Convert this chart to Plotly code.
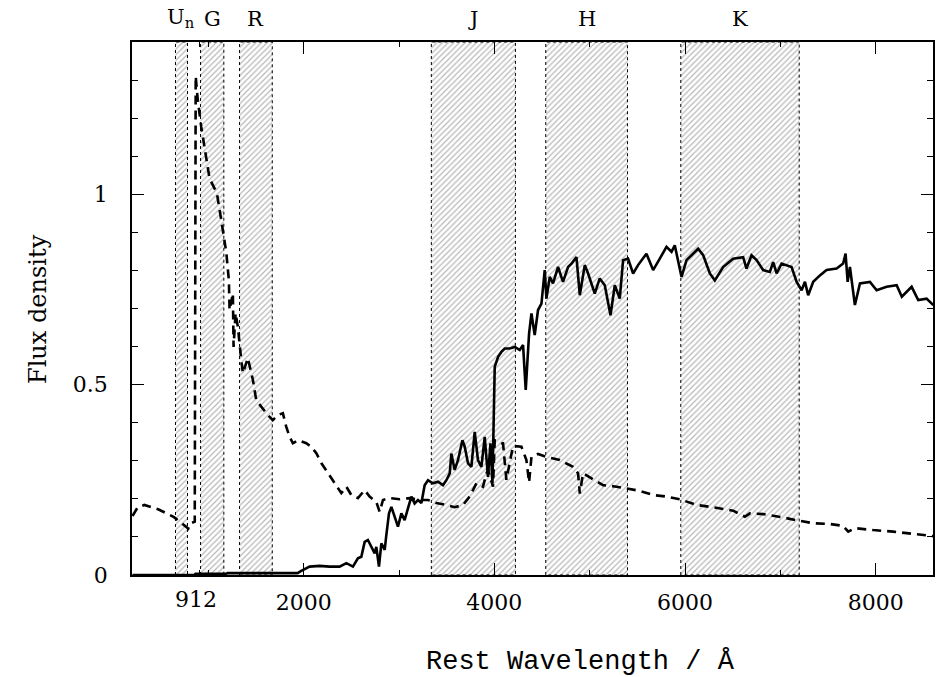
import plotly.graph_objects as go

# ---------------- data ----------------
band_names = ["U<sub>n</sub>", "G", "R", "J", "H", "K"]
band_lo = [656, 919, 1328, 3339, 4539, 5955]
band_hi = [782, 1163, 1671, 4221, 5396, 7197]

# young (starburst) spectrum - dashed
wave_young = [205, 260, 330, 480, 640, 770, 790, 810, 850, 858, 868, 890, 926, 979,
              1013, 1048, 1090, 1136, 1188, 1216, 1223, 1258, 1265, 1286, 1310, 1346,
              1363, 1415, 1468, 1503, 1556, 1625, 1677, 1730, 1782, 1818, 1853, 1887,
              1940, 2028, 2080, 2133, 2185, 2255, 2325, 2395, 2448, 2500, 2569, 2640,
              2692, 2762, 2797, 2832, 2902, 3007, 3112, 3217, 3304, 3392, 3497, 3584,
              3671, 3741, 3812, 3881, 3917, 3933, 3986, 4004, 4074, 4091, 4126, 4196,
              4284, 4336, 4364, 4389, 4458, 4546, 4686, 4825, 4878, 4896, 4930, 5018,
              5140, 5281, 5386, 5525, 5665, 5805, 5945, 6120, 6294, 6504, 6627, 6680,
              6819, 6907, 7029, 7186, 7344, 7519, 7658, 7711, 7781, 7973, 8183, 8393,
              8603]
flux_young = [0.155, 0.178, 0.184, 0.172, 0.152, 0.128, 0.122, 0.135, 0.138, 0.14,
              1.31, 1.247, 1.177, 1.089, 1.042, 1.024, 1.003, 0.932, 0.849, 0.774,
              0.696, 0.74, 0.599, 0.688, 0.652, 0.564, 0.53, 0.57, 0.512, 0.459, 0.442,
              0.42, 0.407, 0.42, 0.425, 0.389, 0.363, 0.346, 0.354, 0.346, 0.337, 0.32,
              0.294, 0.268, 0.241, 0.215, 0.232, 0.21, 0.202, 0.223, 0.206, 0.192,
              0.166, 0.197, 0.202, 0.199, 0.202, 0.197, 0.197, 0.189, 0.184, 0.178,
              0.184, 0.206, 0.241, 0.232, 0.267, 0.276, 0.232, 0.354, 0.346, 0.346,
              0.25, 0.339, 0.337, 0.302, 0.243, 0.31, 0.318, 0.31, 0.302, 0.284, 0.267,
              0.214, 0.267, 0.254, 0.236, 0.232, 0.228, 0.221, 0.21, 0.206, 0.199,
              0.184, 0.178, 0.169, 0.153, 0.162, 0.16, 0.157, 0.151, 0.143, 0.136,
              0.134, 0.129, 0.114, 0.123, 0.118, 0.114, 0.108, 0.102]

# old (evolved) spectrum - solid
wave_old = [205, 856, 866, 1188, 1202, 1937, 1975, 2062, 2167, 2272, 2377, 2448, 2517,
            2569, 2605, 2640, 2674, 2710, 2745, 2762, 2790, 2815, 2850, 2867, 2895,
            2920, 2954, 2989, 3025, 3059, 3094, 3130, 3164, 3199, 3235, 3269, 3304,
            3356, 3409, 3461, 3497, 3532, 3549, 3584, 3619, 3665, 3689, 3724, 3759,
            3794, 3828, 3864, 3899, 3933, 3959, 3980, 4004, 4039, 4074, 4109, 4161,
            4214, 4266, 4301, 4329, 4364, 4389, 4423, 4458, 4494, 4528, 4546, 4581,
            4615, 4668, 4720, 4773, 4809, 4861, 4896, 4948, 4983, 5053, 5105, 5158,
            5218, 5263, 5315, 5350, 5402, 5455, 5507, 5595, 5665, 5735, 5805, 5858,
            5892, 5963, 6015, 6137, 6190, 6260, 6312, 6399, 6504, 6609, 6644, 6697,
            6750, 6819, 6889, 6924, 6960, 7012, 7117, 7170, 7222, 7257, 7291, 7344,
            7414, 7484, 7589, 7658, 7683, 7705, 7729, 7781, 7834, 7939, 8009, 8114,
            8219, 8273, 8376, 8445, 8533, 8603]
flux_old = [0.0, 0.0, 0.003, 0.003, 0.005, 0.005, 0.011, 0.022, 0.024, 0.022, 0.022,
            0.031, 0.022, 0.044, 0.048, 0.087, 0.092, 0.074, 0.057, 0.074, 0.022,
            0.083, 0.066, 0.105, 0.162, 0.179, 0.153, 0.127, 0.162, 0.144, 0.175,
            0.206, 0.188, 0.197, 0.189, 0.236, 0.249, 0.241, 0.245, 0.236, 0.249,
            0.267, 0.319, 0.276, 0.302, 0.354, 0.337, 0.293, 0.284, 0.376, 0.302,
            0.284, 0.363, 0.258, 0.346, 0.241, 0.547, 0.573, 0.586, 0.595, 0.595,
            0.599, 0.591, 0.604, 0.486, 0.634, 0.687, 0.63, 0.696, 0.713, 0.801,
            0.726, 0.783, 0.766, 0.809, 0.77, 0.809, 0.818, 0.835, 0.735, 0.814,
            0.792, 0.739, 0.779, 0.761, 0.682, 0.761, 0.726, 0.827, 0.831, 0.792,
            0.814, 0.844, 0.801, 0.831, 0.862, 0.849, 0.866, 0.783, 0.827, 0.857,
            0.84, 0.792, 0.774, 0.809, 0.831, 0.835, 0.805, 0.84, 0.827, 0.801,
            0.796, 0.822, 0.792, 0.818, 0.809, 0.77, 0.748, 0.77, 0.735, 0.77, 0.787,
            0.801, 0.805, 0.818, 0.844, 0.77, 0.809, 0.709, 0.766, 0.77, 0.748,
            0.757, 0.761, 0.731, 0.757, 0.722, 0.726, 0.709]

x_tickvals = [2000, 4000, 6000, 8000]
x_ticktext = ["2000", "4000", "6000", "8000"]
x_minorvals = [912, 1000, 3000, 5000, 7000]
y_tickvals = [0, 0.5, 1]
y_ticktext = ["0", "0.5", "1"]
X_RANGE = [200, 8600]
Y_RANGE = [0, 1.4]

SERIF = "DejaVu Serif"
MONO = "Liberation Mono"

fig = go.Figure()

# hatched filter bands
for lo, hi in zip(band_lo, band_hi):
    fig.add_trace(go.Scatter(
        x=[lo, lo, hi, hi, lo], y=[Y_RANGE[0], Y_RANGE[1], Y_RANGE[1], Y_RANGE[0], Y_RANGE[0]],
        mode="lines", fill="toself", fillcolor="white",
        fillpattern=dict(shape="/", fgcolor="#707070", bgcolor="white", size=4, solidity=0.3),
        line=dict(color="black", width=1, dash="dot"),
        hoverinfo="skip", showlegend=False))

fig.add_trace(go.Scatter(x=wave_young, y=flux_young, mode="lines",
                         line=dict(color="black", width=2.6, dash="9px,6px"),
                         showlegend=False))
fig.add_trace(go.Scatter(x=wave_old, y=flux_old, mode="lines",
                         line=dict(color="black", width=2.6),
                         showlegend=False))

# band labels on top
for name, lo, hi in zip(band_names, band_lo, band_hi):
    fig.add_annotation(x=(lo + hi) / 2, xref="x", y=1, yref="paper",
                       yanchor="bottom", yshift=9, showarrow=False, text=name,
                       font=dict(family=SERIF, size=21, color="black"))

# 912 label
fig.add_annotation(x=912, xref="x", y=0, yref="paper", yanchor="top", yshift=-10,
                   xshift=-4, showarrow=False, text="912",
                   font=dict(family=SERIF, size=22, color="black"))

# axis titles
fig.add_annotation(x=0.56, xref="paper", y=0, yref="paper", yanchor="top",
                   yshift=-70, showarrow=False, text="Rest Wavelength / Å",
                   font=dict(family=MONO, size=27, color="black"))
fig.add_annotation(x=-0.138, xref="paper", y=0.5, yref="paper", textangle=-90,
                   showarrow=False, text="Flux density",
                   font=dict(family=SERIF, size=24, color="black"))

axis_common = dict(showline=True, linecolor="black", linewidth=1.5, mirror="ticks",
                   ticks="inside", tickcolor="black", tickwidth=1.3, ticklen=12,
                   showgrid=False, zeroline=False,
                   tickfont=dict(family=SERIF, size=22, color="black"))

fig.update_xaxes(range=X_RANGE, tickmode="array", tickvals=x_tickvals, ticktext=x_ticktext,
                 ticklabelstandoff=7,
                 minor=dict(tickmode="array", tickvals=x_minorvals, ticks="inside",
                            ticklen=5, tickcolor="black", tickwidth=1.2),
                 **axis_common)
fig.update_yaxes(range=Y_RANGE, tickmode="array", tickvals=y_tickvals, ticktext=y_ticktext,
                 ticklabelstandoff=18,
                 minor=dict(dtick=0.1, tick0=0, ticks="inside", ticklen=6,
                            tickcolor="black", tickwidth=1.2),
                 **axis_common)

fig.update_layout(width=937, height=677, plot_bgcolor="white", paper_bgcolor="white",
                  margin=dict(l=132, r=4, t=42, b=102, autoexpand=False), showlegend=False)

fig.write_html("out.html", config={"displayModeBar": False},
               post_script="document.body.style.margin='0';document.body.style.overflow='hidden';")
